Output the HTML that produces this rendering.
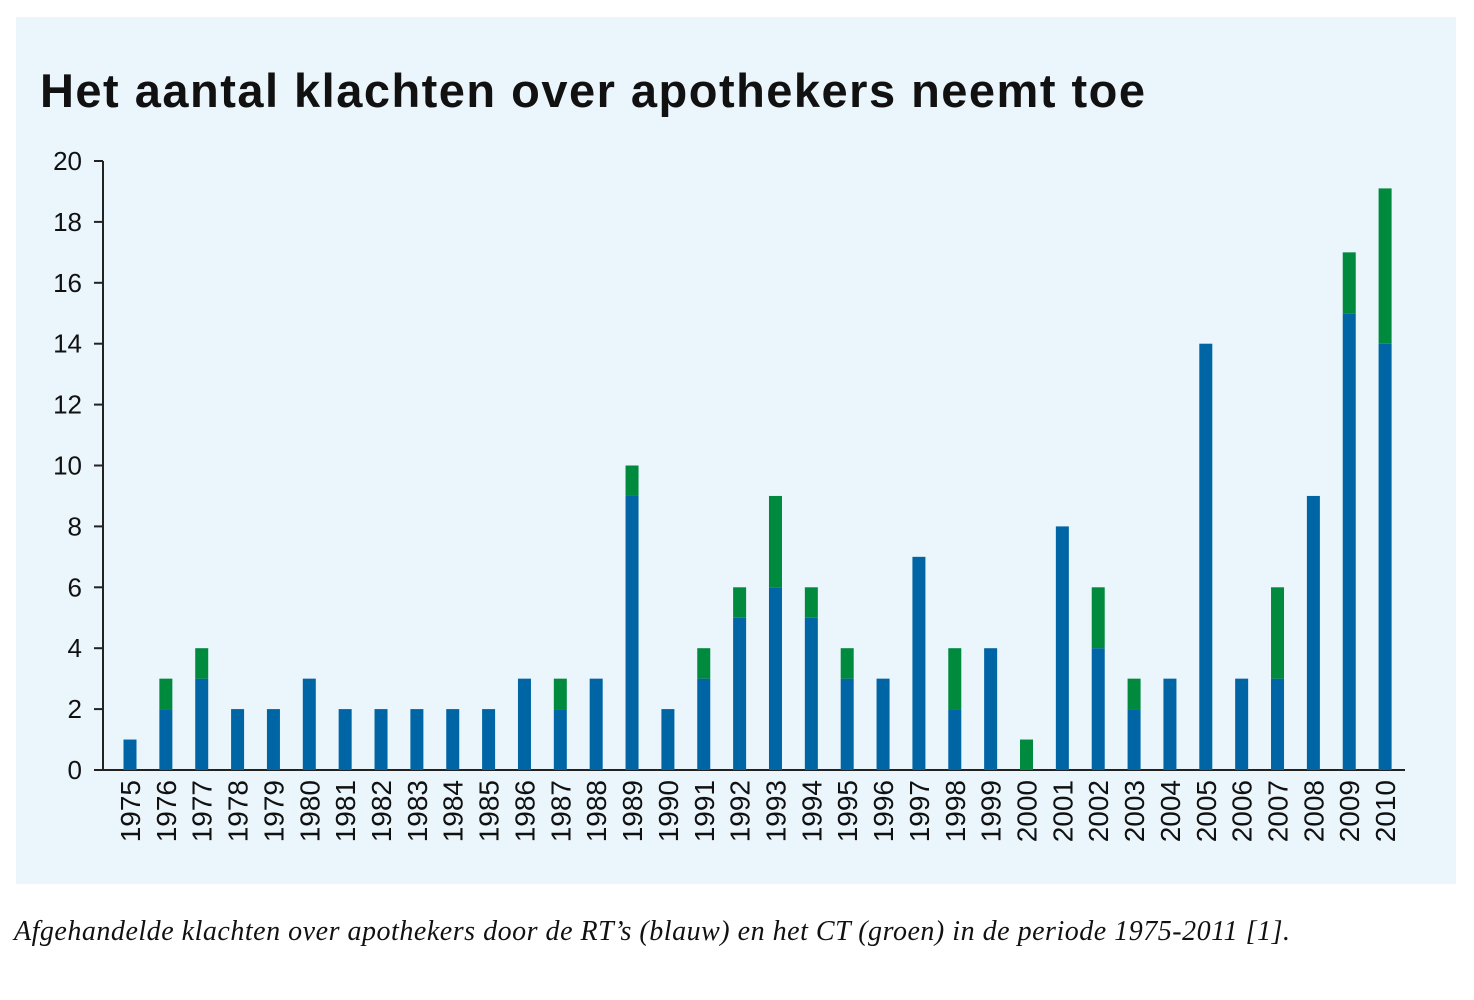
<!DOCTYPE html>
<html><head><meta charset="utf-8"><style>
body{margin:0;background:#fff;width:1474px;height:995px;overflow:hidden}
</style></head><body>
<svg width="1474" height="995" xmlns="http://www.w3.org/2000/svg">
<rect x="16" y="17" width="1440" height="867" fill="#eaf5fc"/>
<text x="40" y="107" font-family="Liberation Sans, sans-serif" font-weight="bold" font-size="47" fill="#111" textLength="1105" lengthAdjust="spacing">Het aantal klachten over apothekers neemt toe</text>
<g id="axes" stroke="#222" stroke-width="2">
<line x1="103" y1="161" x2="103" y2="770"/>
<line x1="103" y1="770" x2="1405" y2="770"/>
</g>
<g id="yt" font-family="Liberation Sans, sans-serif" font-size="26" fill="#111" text-anchor="end"></g>
<g id="bars"></g>
<g id="xt" font-family="Liberation Sans, sans-serif" font-size="28" fill="#111" text-anchor="end"></g>
<text x="14" y="940" font-family="Liberation Serif, serif" font-style="italic" font-size="28" fill="#111" textLength="1276" lengthAdjust="spacing">Afgehandelde klachten over apothekers door de RT’s (blauw) en het CT (groen) in de periode 1975-2011 [1].</text>
</svg>
<script>
var ns="http://www.w3.org/2000/svg";
function el(t,a,p,txt){var e=document.createElementNS(ns,t);for(var k in a)e.setAttribute(k,a[k]);if(txt!==undefined)e.textContent=txt;document.getElementById(p).appendChild(e);return e;}
var u=30.45,y0=770;
for(var i=0;i<=10;i++){var y=y0-i*2*u;
el("line",{x1:94,y1:y,x2:103,y2:y,stroke:"#222","stroke-width":2},"axes");
el("text",{x:82,y:y+9},"yt",String(i*2));}
var d=[[1,0],[2,1],[3,1],[2,0],[2,0],[3,0],[2,0],[2,0],[2,0],[2,0],[2,0],[3,0],[2,1],[3,0],[9,1],[2,0],[3,1],[5,1],[6,3],[5,1],[3,1],[3,0],[7,0],[2,2],[4,0],[0,1],[8,0],[4,2],[2,1],[3,0],[14,0],[3,0],[3,3],[9,0],[15,2],[14,5.1]];
for(var j=0;j<d.length;j++){var cx=130+j*35.86,b=d[j][0],g=d[j][1];
el("rect",{x:cx-6.5,y:y0-b*u,width:13,height:b*u,fill:"#0065a4"},"bars");
if(g)el("rect",{x:cx-6.5,y:y0-(b+g)*u,width:13,height:g*u,fill:"#008a3e"},"bars");
el("text",{x:0,y:0,transform:"translate("+(cx+10)+",780) rotate(-90)"},"xt",String(1975+j));}
</script>
</body></html>
